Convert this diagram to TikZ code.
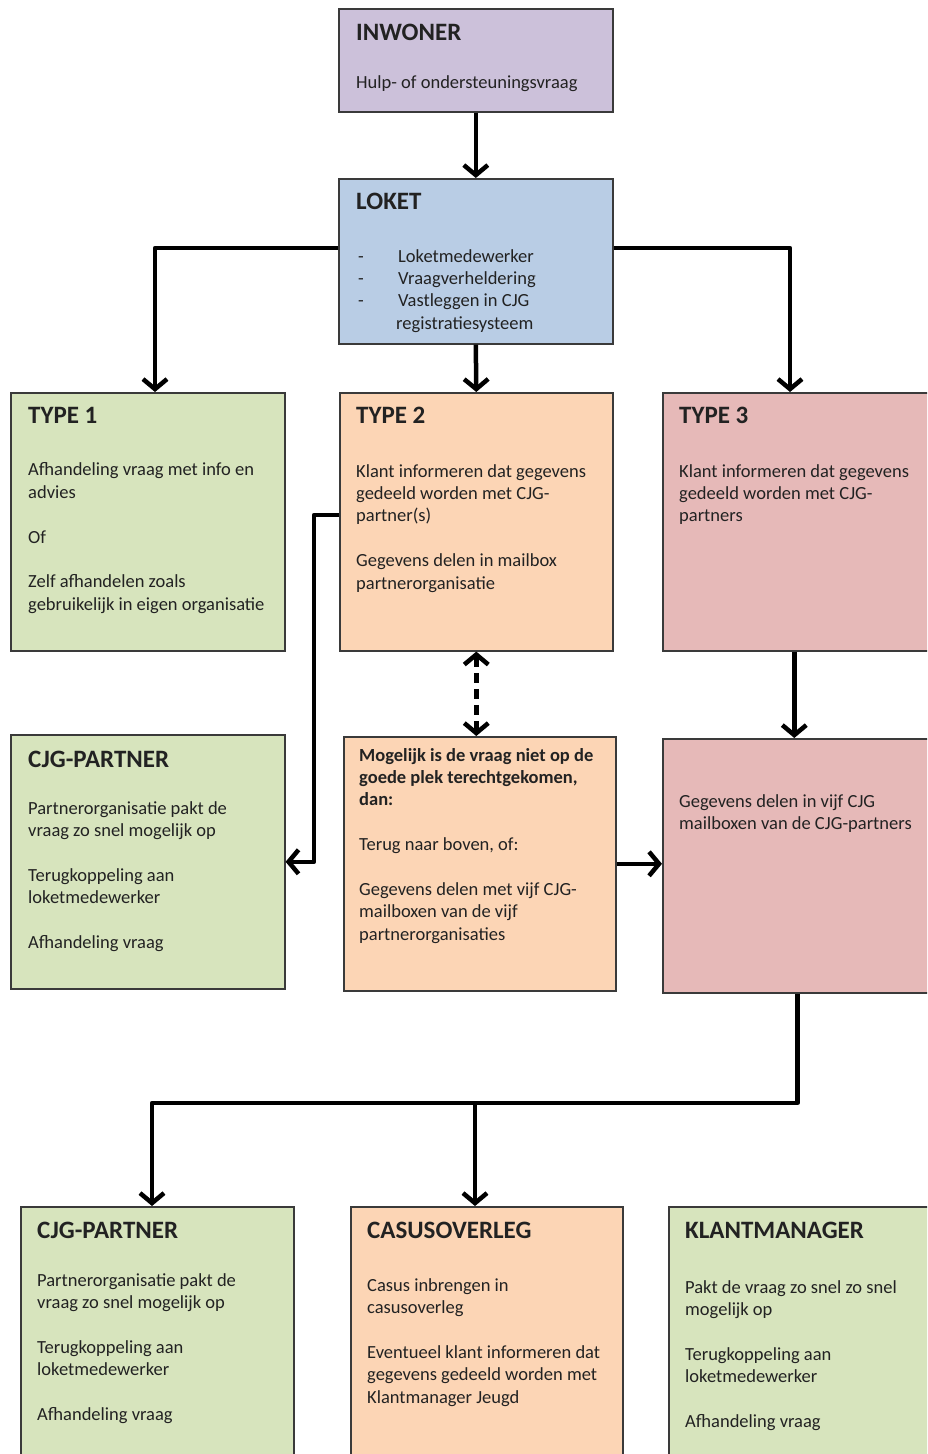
\documentclass[tikz,border=0pt]{standalone}
\usepackage{fontspec}
\setmainfont{Carlito}
\usetikzlibrary{arrows.meta}
\definecolor{lav}{HTML}{CCC1DA}
\definecolor{blu}{HTML}{B9CDE5}
\definecolor{grn}{HTML}{D7E4BD}
\definecolor{pch}{HTML}{FCD5B5}
\definecolor{pnk}{HTML}{E6B9B8}
\definecolor{bord}{HTML}{3A3A3A}
\definecolor{ink}{HTML}{222222}
\tikzset{
  box/.style={draw=bord, line width=1.6pt, anchor=north west, inner sep=0pt},
  txt/.style={anchor=north west, inner sep=0pt, align=left, text=ink,
    font=\fontsize{18.5}{22.4}\selectfont},
  conn/.style={line width=4.5pt, draw=black, line join=round},
  arr/.style={conn, -{Straight Barb[length=10pt,width=24pt]}},
  darr/.style={conn, dash pattern=on 10pt off 6pt, {Straight Barb[length=10pt,width=24pt]}-{Straight Barb[length=10pt,width=24pt]}},
}
\newcommand{\ttl}[1]{{\fontsize{25}{26}\selectfont\bfseries #1}}
\newcommand{\dsh}{\makebox[40pt][l]{-}}
\begin{document}
\begin{tikzpicture}[x=1pt,y=-1pt]
\useasboundingbox (0,0) rectangle (927,1454);
\begin{scope}
\clip (0,0) rectangle (927,1454);
\fill[white] (0,0) rectangle (927,1454);
% boxes
\node[box, fill=lav, minimum width=274pt, minimum height=103pt] (inw) at (338,8) {};
\node[box, fill=blu, minimum width=274pt, minimum height=165pt] (lok) at (338,178) {};
\node[box, fill=grn, minimum width=274pt, minimum height=258pt] (t1) at (10,392) {};
\node[box, fill=pch, minimum width=273pt, minimum height=258pt] (t2) at (339,392) {};
\node[box, fill=pnk, minimum width=275pt, minimum height=258pt] (t3) at (662,392) {};
\node[box, fill=grn, minimum width=274pt, minimum height=254pt] (cjg1) at (10,734) {};
\node[box, fill=pch, minimum width=272pt, minimum height=254pt] (mog) at (343,736) {};
\node[box, fill=pnk, minimum width=275pt, minimum height=254pt] (geg) at (662,738) {};
\node[box, fill=grn, minimum width=273pt, minimum height=270pt] (cjg2) at (20,1206) {};
\node[box, fill=pch, minimum width=272pt, minimum height=270pt] (cas) at (350,1206) {};
\node[box, fill=grn, minimum width=270pt, minimum height=270pt] (klm) at (668,1206) {};
% texts
\node[txt] (inwT) at (356,24) {\ttl{INWONER}\\[26pt]Hulp- of ondersteuningsvraag};
\node[txt] (lokT) at (356,193) {\ttl{LOKET}};
\node[txt] (lokI) at (358,249) {\dsh Loketmedewerker\\\dsh Vraagverheldering\\\dsh Vastleggen in CJG\\\hspace*{38pt}registratiesysteem};
\node[txt] (t1T) at (28,407) {\ttl{TYPE 1}\\[30pt]Afhandeling vraag met info en\\advies\\[22.4pt]Of\\[22.4pt]Zelf afhandelen zoals\\gebruikelijk in eigen organisatie};
\node[txt] (t2T) at (356,407) {\ttl{TYPE 2}\\[31pt]Klant informeren dat gegevens\\gedeeld worden met CJG-\\partner(s)\\[22.4pt]Gegevens delen in mailbox\\partnerorganisatie};
\node[txt] (t3T) at (679,407) {\ttl{TYPE 3}\\[31pt]Klant informeren dat gegevens\\gedeeld worden met CJG-\\partners};
\node[txt] (cjg1T) at (28,751) {\ttl{CJG-PARTNER}\\[24pt]Partnerorganisatie pakt de\\vraag zo snel mogelijk op\\[22.4pt]Terugkoppeling aan\\loketmedewerker\\[22.4pt]Afhandeling vraag};
\node[txt] (mogT) at (359,748) {\textbf{Mogelijk is de vraag niet op de}\\\textbf{goede plek terechtgekomen,}\\\textbf{dan:}\\[22.4pt]Terug naar boven, of:\\[22.4pt]Gegevens delen met vijf CJG-\\mailboxen van de vijf\\partnerorganisaties};
\node[txt] (gegT) at (679,794) {Gegevens delen in vijf CJG\\mailboxen van de CJG-partners};
\node[txt] (cjg2T) at (37,1222) {\ttl{CJG-PARTNER}\\[25pt]Partnerorganisatie pakt de\\vraag zo snel mogelijk op\\[22.4pt]Terugkoppeling aan\\loketmedewerker\\[22.4pt]Afhandeling vraag};
\node[txt] (casT) at (367,1222) {\ttl{CASUSOVERLEG}\\[30pt]Casus inbrengen in\\casusoverleg\\[22.4pt]Eventueel klant informeren dat\\gegevens gedeeld worden met\\Klantmanager Jeugd};
\node[txt] (klmT) at (685,1222) {\ttl{KLANTMANAGER}\\[32pt]Pakt de vraag zo snel zo snel\\mogelijk op\\[22.4pt]Terugkoppeling aan\\loketmedewerker\\[22.4pt]Afhandeling vraag};
% connectors
\coordinate (bl) at (155,248);
\coordinate (br) at (790,248);
\coordinate (t2l) at (314,515);
\coordinate (jl) at (152,1103);
\coordinate (jm) at (475,1103);
\draw[arr] (inw.south) -- (lok.north);
\draw[arr] (lok.west |- bl) -- (bl) -- (bl |- t1.north);
\draw[arr] (lok.east |- br) -- (br) -- (br |- t3.north);
\draw[arr] (lok.south) -- (t2.north);
\draw[arr] (t2.west |- t2l) -- (t2l) |- (cjg1.east);
\draw[darr] (t2.south) -- (t2.south |- mog.north);
\draw[arr] (mog.east) -- (mog.east -| geg.west);
\draw[arr] ([xshift=-6pt]t3.south) -- ([xshift=-6pt]t3.south |- geg.north);
\draw[arr] ([xshift=-3pt]geg.south) |- (jl) -- (jl |- cjg2.north);
\draw[arr] (jm) -- (jm |- cas.north);
\end{scope}
\end{tikzpicture}
\end{document}
